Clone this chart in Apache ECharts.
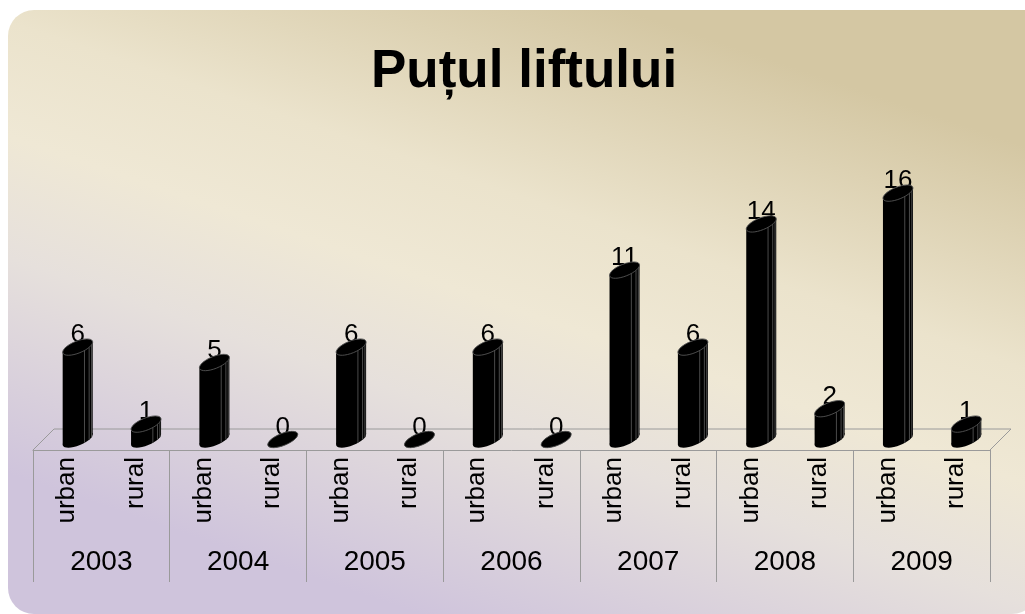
<!DOCTYPE html>
<html>
<head>
<meta charset="utf-8">
<script src="https://cdn.jsdelivr.net/npm/echarts@6/dist/echarts.min.js"></script>
<style>
html,body{margin:0;padding:0;background:#fff;}
#main{width:1025px;height:614px;}
</style>
</head>
<body>
<div id="main"></div>
<script>
var years = ['2003','2004','2005','2006','2007','2008','2009'];
var places = ['urban','rural'];
var urban = [6,5,6,6,11,14,16];
var rural = [1,0,0,0,6,2,1];

// 14 slots: urban/rural for each year
var cats = [], vals = [];
for (var i = 0; i < years.length; i++) {
	cats.push(places[0]); vals.push([cats.length - 1, urban[i]]);
	cats.push(places[1]); vals.push([cats.length - 1, rural[i]]);
}

var font = 'Liberation Sans, Arial, sans-serif';
var depth = 21;            // floor depth in px (drawn at 45deg)
var tilt = 22 * Math.PI / 180;
var ra = 16, rb = 6;       // cylinder ellipse radii

function ellPt(cx, cy, t) {
	return [cx + ra * Math.cos(t) * Math.cos(tilt) + rb * Math.sin(t) * Math.sin(tilt),
		cy - ra * Math.cos(t) * Math.sin(tilt) + rb * Math.sin(t) * Math.cos(tilt)];
}

function renderBar(params, api) {
	var p0 = api.coord([api.value(0), 0]);
	var p1 = api.coord([api.value(0), api.value(1)]);
	var cx = p0[0] + depth / 2, by = p0[1] - depth / 2, ty = p1[1] - depth / 2;
	var t0 = Math.atan((rb * Math.tan(tilt)) / ra);
	var tr = ellPt(cx, ty, t0), tl = ellPt(cx, ty, t0 + Math.PI);
	var br = ellPt(cx, by, t0), bl = ellPt(cx, by, t0 + Math.PI);
	var kids = [{
		type: 'text',
		style: {text: String(api.value(1)), x: cx, y: ty - 12, fill: '#000', font: '26px ' + font, align: 'center', verticalAlign: 'middle'}
	}, {
		type: 'ellipse', x: cx, y: by, rotation: tilt,
		shape: {cx: 0, cy: 0, rx: ra, ry: rb},
		style: {fill: '#000'}
	}, {
		type: 'polygon',
		shape: {points: [tl, tr, br, bl]},
		style: {fill: '#000'}
	}];
	if (ty < by - 1) {
		[1.25, 0.85, 0.55].forEach(function (t) {
			var a = ellPt(cx, ty, t), b = ellPt(cx, by, t);
			kids.push({type: 'line', shape: {x1: a[0], y1: a[1], x2: b[0], y2: b[1]}, style: {stroke: '#4a4a4a', lineWidth: 1}});
		});
	}
	kids.push({
		type: 'ellipse', x: cx, y: ty, rotation: tilt,
		shape: {cx: 0, cy: 0, rx: ra, ry: rb},
		style: {fill: '#000', stroke: '#555', lineWidth: 0.8}
	});
	return {type: 'group', children: kids};
}

function renderFloor(params, api) {
	var c = params.coordSys;
	var yb = c.y + c.height;
	return {
		type: 'polyline',
		shape: {points: [[c.x, yb], [c.x + depth, yb - depth], [c.x + c.width + depth, yb - depth], [c.x + c.width, yb]]},
		style: {stroke: '#9a9a9a', lineWidth: 1, fill: null}
	};
}

var myChart = echarts.init(document.getElementById('main'));
var option = {
	backgroundColor: '#fff',
	animation: false,
	graphic: [{
		type: 'rect', z: -10,
		shape: {x: 8, y: 10, width: 1030, height: 604, r: [26, 14, 26, 26]},
		style: {
			fill: new echarts.graphic.LinearGradient(0.6, 0, 0.4, 1, [
				{offset: 0, color: '#d4c7a3'},
				{offset: 0.33, color: '#ebe3cc'},
				{offset: 0.5, color: '#efe8d5'},
				{offset: 0.68, color: '#e6e0dc'},
				{offset: 1, color: '#cfc4dc'}
			])
		}
	}],
	title: {
		text: 'Puțul liftului',
		left: 366,
		top: 41,
		textStyle: {fontSize: 53, fontWeight: 'bold', color: '#000', fontFamily: font}
	},
	grid: {left: 33, right: 35, top: 142, bottom: 164},
	xAxis: [{
		type: 'category',
		data: cats,
		position: 'bottom',
		axisLine: {show: false},
		axisTick: {show: false},
		axisLabel: {interval: 0, rotate: 90, margin: 7, fontSize: 26, color: '#000', fontFamily: font}
	}, {
		type: 'category',
		data: years,
		position: 'bottom',
		axisLine: {show: true, lineStyle: {color: '#9a9a9a', width: 1}},
		axisTick: {show: true, interval: 0, length: 132, lineStyle: {color: '#9a9a9a'}},
		axisLabel: {interval: 0, margin: 98, fontSize: 28, color: '#000', fontFamily: font}
	}],
	yAxis: {
		type: 'value', min: 0, max: 20,
		show: false
	},
	series: [{
		type: 'custom',
		renderItem: renderFloor,
		data: [[0, 0]],
		z: 1
	}, {
		type: 'custom',
		renderItem: renderBar,
		encode: {x: 0, y: 1},
		data: vals,
		z: 3
	}]
};
myChart.setOption(option);
</script>
</body>
</html>
